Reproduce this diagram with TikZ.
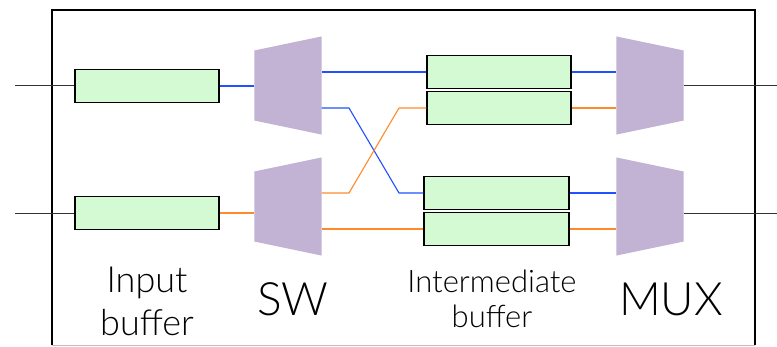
\documentclass[tikz,border=0pt]{standalone}
\usepackage{fontspec}
\setmainfont{Lato Light}
\usetikzlibrary{calc}
\definecolor{bufgreen}{HTML}{D4FAD4}
\definecolor{swpurple}{HTML}{C2B2D4}
\definecolor{lnblue}{HTML}{2050FF}
\definecolor{lnorange}{HTML}{FF8A2A}

\begin{document}
\begin{tikzpicture}[x=1pt,y=1pt,line width=1.1pt,
  buf/.style={draw=black,line width=1.5pt,fill=bufgreen,minimum height=33pt,inner sep=0pt},
  swbox/.style={minimum width=66pt,minimum height=97pt,inner sep=0pt},
  wire/.style={line width=1pt,black!80}]
  \useasboundingbox (0,0) rectangle (777,346);
  % rahmen
  \draw[black,line width=1.5pt] (52,1) -- (52,336) -- (755,336) -- (755,1);
  \draw[gray!50,line width=1pt] (52,1) -- (755,1);
  % eingangspuffer
  \node[buf,minimum width=144pt] (ib1) at (147,260) {};
  \node[buf,minimum width=144pt] (ib2) at (147,133) {};
  \coordinate (in1) at (15,260); \coordinate (in2) at (15,133);
  \draw[wire] (in1) -- (ib1.west); \draw[wire] (in2) -- (ib2.west);
  % switches
  \node[swbox] (sw1) at (288,260.5) {};
  \node[swbox] (sw2) at (288,139.5) {};
  \foreach \s in {sw1,sw2}
    \fill[swpurple] (\s.north east) -- (\s.south east) -- ([yshift=14pt]\s.south west) -- ([yshift=-14pt]\s.north west) -- cycle;
  \draw[lnblue] (ib1.east) -- (ib1.east -| sw1.west);
  \draw[lnorange] (ib2.east) -- (ib2.east -| sw2.west);
  % zwischenpuffer
  \node[buf,minimum width=144pt] (mb1) at (499,274) {};
  \node[buf,minimum width=144pt] (mb2) at (499,238) {};
  \node[buf,minimum width=145pt] (mb3) at (496.5,153) {};
  \node[buf,minimum width=145pt] (mb4) at (496.5,117) {};
  \coordinate (bx) at (349,0); \coordinate (ex) at (399,0);
  \draw[lnblue] (sw1.east |- mb1.west) -- (mb1.west);
  \draw[lnblue] (sw1.east |- mb2.west) -- (bx |- mb2.west) -- (ex |- mb3.west) -- (mb3.west);
  \draw[lnorange] (sw2.east |- mb3.west) -- (bx |- mb3.west) -- (ex |- mb2.west) -- (mb2.west);
  \draw[lnorange] (sw2.east |- mb4.west) -- (mb4.west);
  % multiplexer
  \node[swbox] (mux1) at (650,260.5) {};
  \node[swbox] (mux2) at (650,139.5) {};
  \foreach \s in {mux1,mux2}
    \fill[swpurple] (\s.north west) -- (\s.south west) -- ([yshift=14pt]\s.south east) -- ([yshift=-14pt]\s.north east) -- cycle;
  \draw[lnblue] (mb1.east) -- (mb1.east -| mux1.west);
  \draw[lnorange] (mb2.east) -- (mb2.east -| mux1.west);
  \draw[lnblue] (mb3.east) -- (mb3.east -| mux2.west);
  \draw[lnorange] (mb4.east) -- (mb4.east -| mux2.west);
  \coordinate (out1) at (777,260); \coordinate (out2) at (777,133);
  \draw[wire] (mux1.east |- out1) -- (out1); \draw[wire] (mux2.east |- out2) -- (out2);
  % beschriftung
  \node[anchor=base,align=center,font=\fontsize{36}{43}\selectfont] (lbin) at (147,11) {Input\\buffer};
  \node[anchor=base,font=\fontsize{46}{55}\selectfont] (lbsw) at (293,31) {SW};
  \node[anchor=base,align=center,font=\fontsize{31}{35}\selectfont] (lbmid) at (492,19) {Intermediate\\buffer};
  \node[anchor=base,font=\fontsize{46}{55}\selectfont] (lbmux) at (671,31) {MUX};
\end{tikzpicture}
\end{document}
